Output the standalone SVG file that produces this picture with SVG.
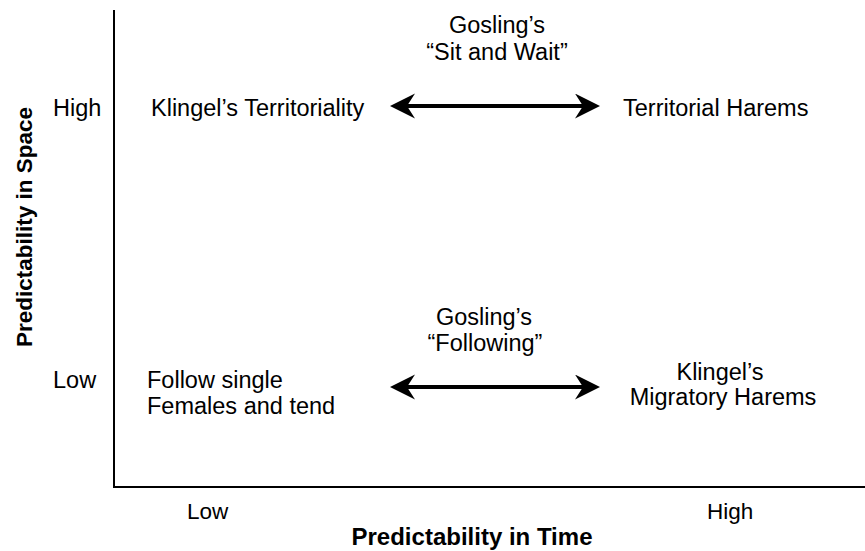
<svg xmlns="http://www.w3.org/2000/svg" width="865" height="551" viewBox="0 0 865 551">
  <style>
    text { font-family: "Liberation Sans", Arial, sans-serif; fill: #000; }
    .lbl { font-size: 23.5px; }
    .tick { font-size: 22.5px; }
    .title { font-weight: bold; }
    .mid { text-anchor: middle; }
    .axis { stroke: #000; stroke-width: 2; fill: none; }
    .conn { stroke: #000; stroke-width: 4; fill: none; marker-start: url(#head); marker-end: url(#head); }
  </style>
  <defs>
    <marker id="head" markerUnits="userSpaceOnUse" markerWidth="26" markerHeight="26" refX="15" refY="12.5" orient="auto-start-reverse" viewBox="0 0 26 26">
      <path d="M0,0 L25,12.5 L0,25 L8,12.5 Z" fill="#000"/>
    </marker>
  </defs>

  <g id="axes">
    <line class="axis" x1="114" y1="10" x2="114" y2="488"/>
    <line class="axis" x1="113" y1="487" x2="865" y2="487"/>
    <text class="lbl" x="53" y="116">High</text>
    <text class="lbl" x="53" y="388">Low</text>
    <text class="tick" x="187" y="519">Low</text>
    <text class="tick" x="707" y="519">High</text>
    <text class="title mid" x="472" y="545" font-size="24">Predictability in Time</text>
    <text class="title mid" transform="translate(32,227) rotate(-90)" font-size="22.5">Predictability in Space</text>
  </g>

  <g id="connectors">
    <line class="conn" x1="400" y1="106" x2="590" y2="106"/>
    <line class="conn" x1="400" y1="387" x2="590" y2="387"/>
  </g>

  <g id="klingel-territoriality">
    <text class="lbl" x="151" y="116">Klingel’s Territoriality</text>
  </g>
  <g id="territorial-harems">
    <text class="lbl" x="623" y="116">Territorial Harems</text>
  </g>
  <g id="gosling-sit-wait">
    <text class="lbl mid" x="497" y="33">Gosling’s</text>
    <text class="lbl mid" x="497" y="60">“Sit and Wait”</text>
  </g>
  <g id="follow-single">
    <text class="lbl" x="147" y="388">Follow single</text>
    <text class="lbl" x="147" y="414">Females and tend</text>
  </g>
  <g id="gosling-following">
    <text class="lbl mid" x="484" y="325">Gosling’s</text>
    <text class="lbl mid" x="485" y="351">“Following”</text>
  </g>
  <g id="klingel-migratory">
    <text class="lbl mid" x="720" y="380">Klingel’s</text>
    <text class="lbl mid" x="723" y="405">Migratory Harems</text>
  </g>
</svg>
